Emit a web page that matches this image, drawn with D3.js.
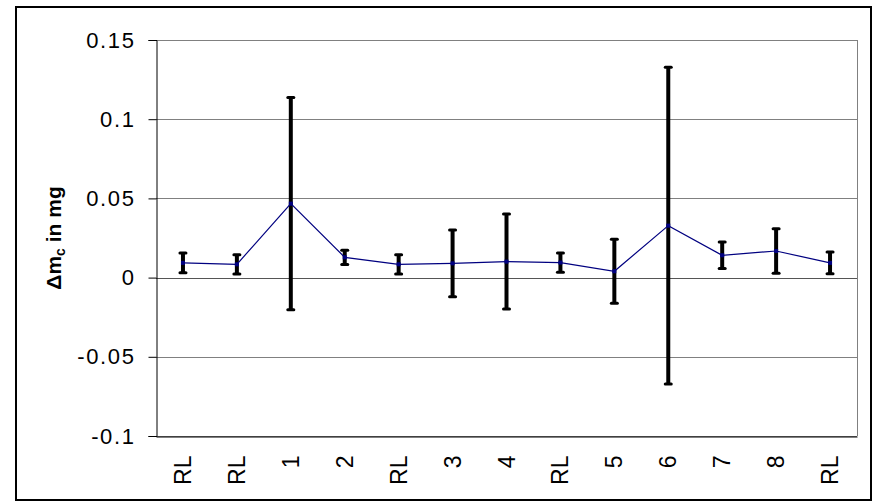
<!DOCTYPE html>
<html>
<head>
<meta charset="utf-8">
<script src="https://cdn.jsdelivr.net/npm/d3@7"></script>
<style>
  body { margin: 0; background: #fff; }
  svg { display: block; font-family: "Liberation Sans", Arial, sans-serif; }
</style>
</head>
<body>
<div id="chart"></div>
<script>
// data
const categories = ['RL', 'RL', '1', '2', 'RL', '3', '4', 'RL', '5', '6', '7', '8', 'RL'];
const values = [0.0093, 0.0084, 0.0467, 0.0128, 0.0084, 0.0090, 0.0101, 0.0095, 0.0040, 0.0328, 0.0141, 0.0168, 0.0093];
const errors = [0.0062, 0.0061, 0.0670, 0.0045, 0.0061, 0.0211, 0.0300, 0.0061, 0.0202, 0.1000, 0.0083, 0.0141, 0.0068];
const yTicks = [-0.1, -0.05, 0, 0.05, 0.1, 0.15];

const width = 872;
const height = 503;
const plot = { left: 156, right: 857, top: 40, bottom: 436 };

const svg = d3.select('#chart')
  .append('svg')
  .attr('width', width)
  .attr('height', height);

// outer frame
svg.append('rect')
  .attr('x', 16).attr('y', 7)
  .attr('width', 855).attr('height', 493)
  .attr('fill', 'none')
  .attr('stroke', '#000')
  .attr('stroke-width', 2);

const idx = categories.map((d, i) => i);
const x = d3.scaleBand().domain(idx).range([plot.left, plot.right]);
const y = d3.scaleLinear().domain([-0.1, 0.15]).range([plot.bottom, plot.top]);

// gridlines
svg.append('g')
  .selectAll('line')
  .data(yTicks)
  .enter().append('line')
  .attr('x1', plot.left).attr('x2', plot.right)
  .attr('y1', d => Math.round(y(d)) + 0.5)
  .attr('y2', d => Math.round(y(d)) + 0.5)
  .attr('stroke', d => d === 0 ? '#555' : '#808080')
  .attr('stroke-width', 1);

// right border of plot area
svg.append('line')
  .attr('x1', plot.right + 0.5).attr('x2', plot.right + 0.5)
  .attr('y1', plot.top).attr('y2', plot.bottom)
  .attr('stroke', '#808080');

// y axis
const fmt = d => String(d);
const yAxis = svg.append('g')
  .attr('transform', `translate(${plot.left + 0.5},0)`)
  .call(d3.axisLeft(y).tickValues(yTicks).tickFormat(fmt).tickSize(8).tickPadding(13));
yAxis.select('.domain').attr('stroke', '#000');
yAxis.selectAll('.tick line').attr('stroke', '#000');
yAxis.selectAll('.tick text')
  .attr('font-size', 22)
  .attr('letter-spacing', 1.6)
  .attr('fill', '#000')
  .attr('font-family', '"Liberation Sans", Arial, sans-serif');

// x axis (labels only, at the bottom)
const xAxis = svg.append('g')
  .attr('transform', `translate(0,${plot.bottom + 0.5})`)
  .call(d3.axisBottom(x).tickFormat(i => categories[i]).tickSize(0));
xAxis.select('.domain').attr('stroke', '#000');
xAxis.selectAll('.tick text')
  .attr('font-size', 23)
  .attr('fill', '#000')
  .attr('font-family', '"Liberation Sans", Arial, sans-serif')
  .attr('text-anchor', 'end')
  .attr('transform', 'rotate(-90)')
  .attr('x', -19)
  .attr('y', 0)
  .attr('dy', '0.35em');

// y axis title
const title = svg.append('text')
  .attr('transform', `translate(61,${(plot.top + plot.bottom) / 2}) rotate(-90)`)
  .attr('text-anchor', 'middle')
  .attr('font-size', 21)
  .attr('font-weight', 'bold');
title.append('tspan').text('\u0394m');
title.append('tspan').attr('font-size', 14).attr('dy', 4).text('c');
title.append('tspan').attr('dy', -4).text(' in mg');

const cx = i => x(i) + x.bandwidth() / 2;

// error bars
const bars = svg.append('g');
bars.selectAll('line.bar')
  .data(idx)
  .enter().append('line')
  .attr('class', 'bar')
  .attr('x1', cx).attr('x2', cx)
  .attr('y1', i => y(values[i] + errors[i]))
  .attr('y2', i => y(values[i] - errors[i]))
  .attr('stroke', '#000')
  .attr('stroke-width', 4);
['+', '-'].forEach(sign => {
  bars.selectAll('line.cap' + (sign === '+' ? 'hi' : 'lo'))
    .data(idx)
    .enter().append('line')
    .attr('x1', i => cx(i) - 3).attr('x2', i => cx(i) + 3)
    .attr('y1', i => y(sign === '+' ? values[i] + errors[i] : values[i] - errors[i]))
    .attr('y2', i => y(sign === '+' ? values[i] + errors[i] : values[i] - errors[i]))
    .attr('stroke', '#000')
    .attr('stroke-width', 3)
    .attr('stroke-linecap', 'round');
});

// series line
const line = d3.line().x(i => cx(i)).y(i => y(values[i]));
svg.append('path')
  .datum(idx)
  .attr('d', line)
  .attr('fill', 'none')
  .attr('stroke', '#000080')
  .attr('stroke-width', 1.2);

svg.append('g')
  .selectAll('rect')
  .data(idx)
  .enter().append('rect')
  .attr('x', i => cx(i) - 2).attr('y', i => y(values[i]) - 2)
  .attr('width', 4).attr('height', 4)
  .attr('fill', '#000080');
</script>
</body>
</html>
